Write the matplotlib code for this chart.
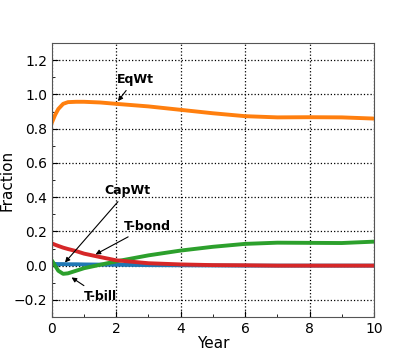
import matplotlib
matplotlib.use("Agg")
import matplotlib.pyplot as plt
from matplotlib.ticker import MultipleLocator

years = [0, 0.1, 0.2, 0.35, 0.5, 0.75, 1, 1.5, 2, 3, 4, 5, 6, 7, 8, 9, 10]
capwt = [0.01, 0.01, 0.009, 0.009, 0.008, 0.008, 0.007, 0.006, 0.005, 0.003, 0.002, 0.001, 0.0, 0.0, 0.0, 0.0, 0.0]
eqwt = [0.835, 0.88, 0.915, 0.945, 0.955, 0.957, 0.957, 0.953, 0.945, 0.93, 0.91, 0.89, 0.873, 0.866, 0.867, 0.866, 0.859]
tbill = [0.03, 0.0, -0.03, -0.048, -0.045, -0.03, -0.015, 0.005, 0.025, 0.06, 0.088, 0.11, 0.127, 0.134, 0.133, 0.132, 0.14]
tbond = [0.13, 0.122, 0.115, 0.105, 0.097, 0.085, 0.07, 0.05, 0.031, 0.014, 0.007, 0.003, 0.002, 0.0, 0.0, 0.0, 0.0]

labels = ["CapWt", "EqWt", "T-bill", "T-bond"]

fig = plt.figure(figsize=(4.15, 3.56), dpi=100)
ax = fig.add_axes([0.125, 0.1096, 0.776, 0.7694])

ax.plot(years, capwt, color="#1f77b4", lw=2.8)
ax.plot(years, eqwt, color="#ff7f0e", lw=2.8)
ax.plot(years, tbill, color="#2ca02c", lw=2.8)
ax.plot(years, tbond, color="#d62728", lw=2.8)

ax.set_xlim(0, 10)
ax.set_ylim(-0.3, 1.3)
ax.xaxis.set_major_locator(MultipleLocator(2))
ax.xaxis.set_minor_locator(MultipleLocator(1))
ax.yaxis.set_major_locator(MultipleLocator(0.2))
ax.yaxis.set_minor_locator(MultipleLocator(0.1))
ax.tick_params(which="both", direction="in", labelsize=10)
ax.tick_params(which="major", length=4)
ax.tick_params(which="minor", length=2)
ax.grid(True, which="major", color="black", linestyle=":", linewidth=0.9)
for s in ax.spines.values():
    s.set_color("#555555")
ax.set_xlabel("Year", fontsize=11, labelpad=0)
ax.set_ylabel("Fraction", fontsize=11, labelpad=-1)

ap = dict(arrowstyle="-|>", color="black", lw=0.8, mutation_scale=7)
ax.annotate("EqWt", xy=(2.0, 0.948), xytext=(2.58, 1.09), ha="center", va="center",
            fontsize=9, fontweight="bold", arrowprops=ap)
ax.annotate("CapWt", xy=(0.35, 0.006), xytext=(2.36, 0.44), ha="center", va="center",
            fontsize=9, fontweight="bold", arrowprops=ap)
ax.annotate("T-bond", xy=(1.28, 0.058), xytext=(2.98, 0.23), ha="center", va="center",
            fontsize=9, fontweight="bold", arrowprops=ap)
ax.annotate("T-bill", xy=(0.54, -0.06), xytext=(1.5, -0.18), ha="center", va="center",
            fontsize=9, fontweight="bold", arrowprops=ap)

fig.savefig("out.png", dpi=100)
